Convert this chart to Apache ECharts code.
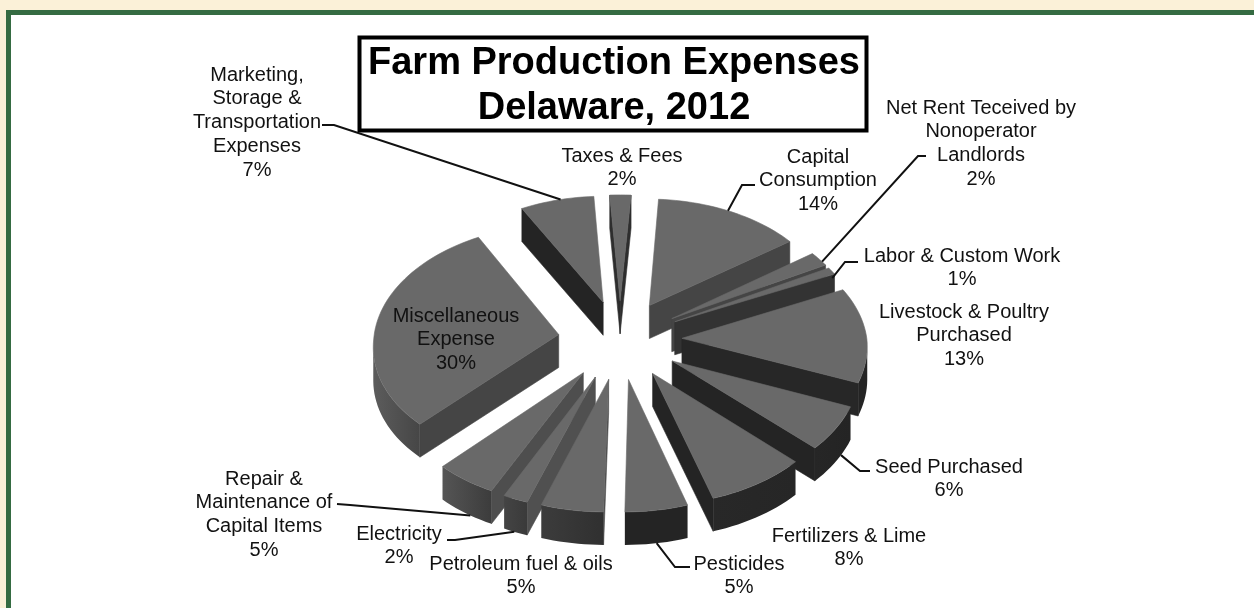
<!DOCTYPE html>
<html><head><meta charset="utf-8">
<style>html,body{margin:0;padding:0;background:#fbf1d8}#c{width:1254px;height:608px}</style>
<script src="https://cdn.jsdelivr.net/npm/echarts@6/dist/echarts.min.js"></script>
</head><body><div id="c"></div>
<script>
// ---- data ----
const titleLines = ["Farm Production Expenses", "Delaware, 2012"];
const categories = ["Taxes & Fees","Capital\nConsumption","Net Rent Teceived by\nNonoperator\nLandlords","Labor & Custom Work","Livestock & Poultry\nPurchased","Seed Purchased","Fertilizers & Lime","Pesticides","Petroleum fuel & oils","Electricity","Repair &\nMaintenance of\nCapital Items","Miscellaneous\nExpense","Marketing,\nStorage &\nTransportation\nExpenses"];
const values = [2,14,2,1,13,6,8,5,5,2,5,30,7];

// ---- styling (per slice) ----
const topColor = "#696969";
const radialColors = ["#2e2e2e","#454545","#454545","#333333","#272727","#242424","#242424","#222222","#4c4c4c","#505050","#4e4e4e","#454545","#242424"];
const rimColors = [["#333","#333"],["#444","#444"],["#444","#444"],["#3a3a3a","#3a3a3a"],["#242424","#242424"],["#262626","#242424"],["#282828","#262626"],["#242424","#242424"],["#3c3c3c","#303030"],["#444444","#3a3a3a"],["#555555","#3c3c3c"],["#5c5c5c","#464646"],["#333","#333"]];
// label centre x, first-line centre y
const labelX = [622,818,981,962,964,949,849,739,521,399,264,456,257];
const labelY = [156,157,108,256,312,467,536,564,564,534,479,316,75];
// leaders: slice index, position along its outer arc (0..1), depth 0..1, polyline start points in px
const leaders = [
 {i:12,f:0.55,d:0,pts:[[322,125],[334,125]]},
 {i:1,f:0.48,d:0,pts:[[755,185],[742,185]]},
 {i:2,f:0.72,d:0,pts:[[926,156],[918,156]]},
 {i:3,f:0.6,d:0.2,pts:[[858,262],[845,262]]},
 {i:5,f:0.35,d:1,pts:[[870,471],[860,471]]},
 {i:7,f:0.5,d:1,pts:[[690,567],[675,567]]},
 {i:9,f:0.55,d:1,pts:[[447,540],[455,540]]},
 {i:10,f:0.4,d:1,pts:[[337,504],[350,505]]}
];

// ---- projection model ----
const P = {cx:620, cy:339.5, rx:185, ry:118, depth:33, k:0.067, e:0.335, start:-3.5, shear:4};
const total = values.reduce((a,b)=>a+b,0);
const rad = d=>d*Math.PI/180;
const ranges = []; {let c=0; values.forEach(v=>{const a=P.start+c/total*360; c+=v; ranges.push([a,P.start+c/total*360]);});}
function proj(x,y,z){const s=1/(1-P.k*y);return [P.cx+P.rx*x*s-P.shear*Math.max(y,0), P.cy+P.ry*y*s+z*P.depth];}
function pt(i,r,deg,z){
  const m=rad((ranges[i][0]+ranges[i][1])/2), t=rad(deg);
  return proj(P.e*Math.sin(m)+r*Math.sin(t), -P.e*Math.cos(m)-r*Math.cos(t), z);
}
function area(p){let a=0;for(let j=0;j<p.length;j++){const q=p[(j+1)%p.length];a+=p[j][0]*q[1]-q[0]*p[j][1];}return a/2;}
function poly(points,fill,z2){return {type:'polygon',z2:z2,shape:{points:points},style:{fill:fill,stroke:fill,lineWidth:0.6}};}
const order = values.map((v,i)=>i).sort((a,b)=>Math.cos(rad((ranges[b][0]+ranges[b][1])/2))-Math.cos(rad((ranges[a][0]+ranges[a][1])/2)));

function renderItem(params,api){
  const i=api.value(0);
  const [a0,a1]=ranges[i];
  const n=Math.max(4,Math.ceil((a1-a0)/2));
  const arc=[];for(let j=0;j<=n;j++)arc.push(a0+(a1-a0)*j/n);
  const kids=[];
  const base=params.dataIndex*10;
  const apex=pt(i,0,a0,0), apexB=pt(i,0,a0,1);
  // radial faces
  [[a0,-1],[a1,1]].forEach(([a,sgn])=>{
    const q=[apex,pt(i,1,a,0),pt(i,1,a,1),apexB];
    if(area(q)*sgn>150) kids.push(poly(q,radialColors[i],base+1));
  });
  // visible outer rim
  const vis=[];
  for(let j=0;j<n;j++){
    const q=[pt(i,1,arc[j],0),pt(i,1,arc[j+1],0),pt(i,1,arc[j+1],1),pt(i,1,arc[j],1)];
    if(area(q)<0) vis.push(j);
  }
  if(vis.length){
    const up=[],dn=[];
    for(let j=vis[0];j<=vis[vis.length-1]+1;j++){up.push(pt(i,1,arc[j],0));dn.unshift(pt(i,1,arc[j],1));}
    const [cl,cr]=rimColors[i];
    const g=new echarts.graphic.LinearGradient(0,0,1,0,[{offset:0,color:cl},{offset:1,color:cr}]);
    const pts=up.concat(dn);
    kids.push({type:'polygon',z2:base+2,shape:{points:pts},style:{fill:g}});
  }
  // top face
  const top=[apex];arc.forEach(a=>top.push(pt(i,1,a,0)));
  kids.push(poly(top,topColor,base+3));
  return {type:'group',children:kids};
}

// ---- annotation graphics ----
const font='"Liberation Sans",Arial,sans-serif';
const elements=[
 {type:'rect',z:-3,shape:{x:6,y:10,width:1248,height:598},style:{fill:'#356b42'}},
 {type:'rect',z:-2,shape:{x:11,y:15,width:1243,height:593},style:{fill:'#ffffff'}}
];
leaders.forEach(l=>{
  const [a0,a1]=ranges[l.i];
  const end=pt(l.i,1,a0+(a1-a0)*l.f,l.d);
  elements.push({type:'polyline',z:3,shape:{points:l.pts.concat([end])},style:{stroke:'#111',lineWidth:2,fill:null}});
});
elements.push({type:'rect',z:4,shape:{x:359.5,y:37.5,width:507,height:93},style:{fill:'#fff',stroke:'#000',lineWidth:4}});
titleLines.forEach((t,j)=>elements.push({type:'text',z:5,x:614,y:[64,109][j],style:{text:t,fill:'#000',font:'bold 38px '+font,textAlign:'center',textVerticalAlign:'middle'}}));
categories.forEach((c,i)=>{
  const lines=(c+"\n"+values[i]+"%").split("\n");
  lines.forEach((s,j)=>elements.push({type:'text',z:5,x:labelX[i],y:labelY[i]+j*23.8,style:{text:s,fill:'#111',font:'20px '+font,textAlign:'center',textVerticalAlign:'middle'}}));
});

const chart=echarts.init(document.getElementById('c'),null,{renderer:'canvas'});
chart.setOption({
  animation:false,
  backgroundColor:'#fbf1d8',
  graphic:{elements:elements},
  series:[{type:'custom',coordinateSystem:'none',silent:true,z:2,renderItem:renderItem,data:order.map(i=>[i,values[i]])}]
});
</script></body></html>
